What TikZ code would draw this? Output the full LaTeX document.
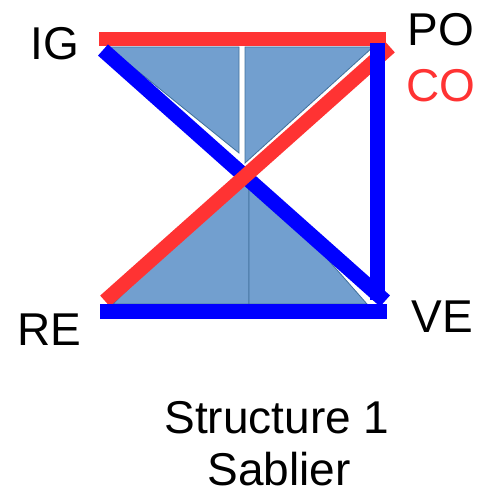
\documentclass[tikz,border=0pt]{standalone}
\usepackage{fontspec}
\setmainfont{Liberation Sans}
\definecolor{barred}{HTML}{FF3333}
\definecolor{barblue}{HTML}{0000FF}
\definecolor{trifill}{HTML}{729FCF}
\definecolor{triedge}{HTML}{41719C}
\begin{document}
\begin{tikzpicture}[x=1pt,y=-1pt,
  lbl/.style={font=\fontsize{46}{53}\selectfont, inner sep=0pt, anchor=base},
  tri/.style={fill=trifill, draw=triedge, line width=0.8pt, line join=miter},
  redbar/.style={draw=barred, line width=14.5pt},
  bluebar/.style={draw=barblue, line width=15pt}]
\useasboundingbox (0,0) rectangle (480,494);
% corner coordinates
\coordinate (tl) at (99,39);
\coordinate (tr) at (386,39);
\coordinate (bl) at (100,311.5);
\coordinate (br) at (387,311.5);
\coordinate (bdA) at (103,50);
\coordinate (bdB) at (385,301);
\coordinate (rdA) at (105,301);
\coordinate (rdB) at (390,47);
\coordinate (vA) at (377.5,43);
\coordinate (vB) at (377.5,300);
% top red bar
\draw[redbar] (tl) -- (tr);
% triangles
\draw[tri] (108,47) -- (239,47) -- (239,153) -- cycle;
\draw[tri] (245,47) -- (373,47) -- (245,163) -- cycle;
\draw[tri] (249,170) -- (113,304) -- (249,304) -- cycle;
\draw[tri] (249,170) -- (367,304) -- (249,304) -- cycle;
% diagonals
\draw[bluebar] (bdA) -- (bdB);
\draw[redbar] (rdA) -- (rdB);
% right vertical and bottom bar
\draw[bluebar] (vA) -- (vB);
\draw[bluebar] (bl) -- (br);
% labels
\node[lbl] (IG) at (55,60) {IG};
\node[lbl] (PO) at (441,46) {PO};
\node[lbl, text=barred] (CO) at (441,102) {CO};
\node[lbl] (RE) at (49,345) {RE};
\node[lbl] (VE) at (442,332) {VE};
\node[lbl] (t1) at (277,433) {Structure 1};
\node[lbl] (t2) at (279,485) {Sablier};
\end{tikzpicture}
\end{document}
